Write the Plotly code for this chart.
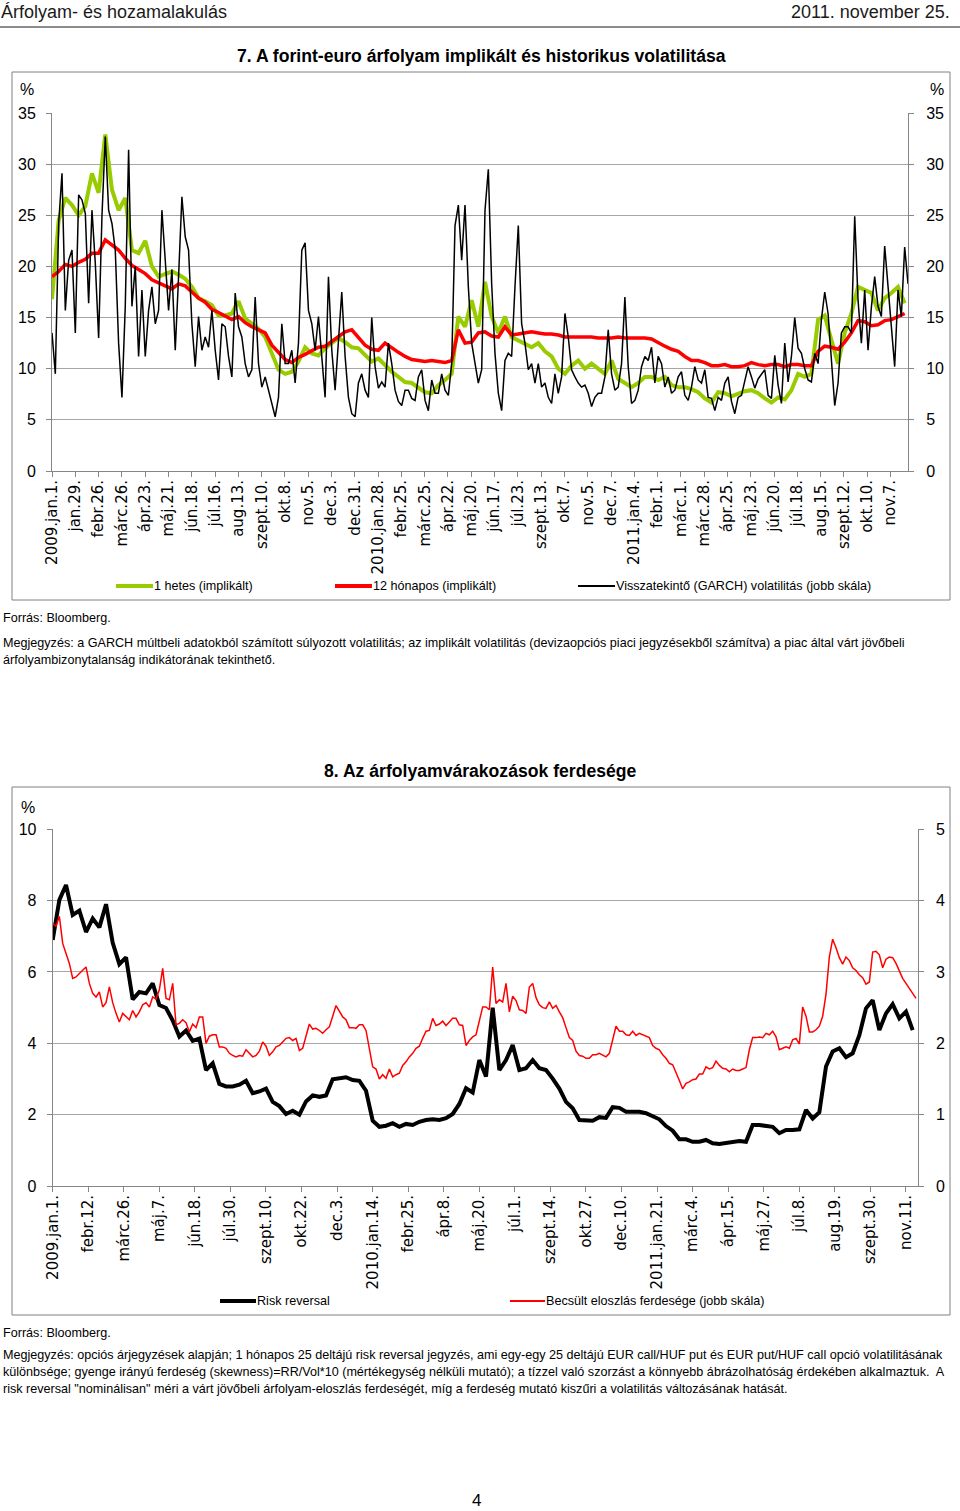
import numpy as np
import plotly.graph_objects as go

W, H = 960, 1511

# ---------------- Chart 7 data (volatility, %) ----------------
vol_tick_labels = ["2009.jan.1.", "jan.29.", "febr.26.", "márc.26.", "ápr.23.", "máj.21.", "jún.18.",
                   "júl.16.", "aug.13.", "szept.10.", "okt.8.", "nov.5.", "dec.3.", "dec.31.",
                   "2010.jan.28.", "febr.25.", "márc.25.", "ápr.22.", "máj.20.", "jún.17.", "júl.23.",
                   "szept.13.", "okt.7.", "nov.5.", "dec.7.", "2011.jan.4.", "febr.1.", "márc.1.",
                   "márc.28.", "ápr.25.", "máj.23.", "jún.20.", "júl.18.", "aug.15.", "szept.12.",
                   "okt.10.", "nov.7."]

green_1w = [16.8, 24.5, 26.7, 26.0, 25.0, 25.9, 29.1, 27.2, 32.9, 27.5,
            25.5, 26.7, 21.6, 21.3, 22.5, 20.0, 19.0, 19.2, 19.5, 19.2,
            18.8, 18.0, 16.9, 16.6, 16.2, 15.2, 15.2, 15.4, 16.6, 14.9,
            14.4, 13.9, 13.1, 11.5, 9.9, 9.5, 9.7, 10.7, 12.1, 11.5,
            11.3, 12.0, 12.5, 13.0,
            12.6, 12.1, 12.0, 11.3, 10.7, 11.0, 10.3, 9.7, 9.2, 8.7,
            8.6, 8.2, 7.7, 7.6, 8.4, 8.9, 9.5, 15.1, 14.1, 16.7,
            14.1, 18.5, 15.1, 13.5, 15.1, 13.1, 12.8, 12.5, 12.1, 12.5,
            11.7, 11.2, 10.0, 9.5, 10.3, 10.8, 10.0, 10.5, 10.0, 9.5,
            10.8, 9.0,
            8.6, 8.2, 8.6, 9.2, 9.2, 8.9, 9.2, 8.4, 8.2, 8.2,
            8.0, 7.7, 7.1, 6.7, 7.7, 7.6, 7.3, 7.6, 7.8, 7.9,
            7.6, 7.1, 6.7, 7.2, 7.0, 7.9, 9.5, 9.2, 9.5, 14.8,
            15.2, 12.8, 10.5, 13.5, 15.4, 18.0, 17.7, 17.4, 15.7, 16.9,
            17.4, 18.0, 16.4]

red_12m = [19.0, 19.5, 20.2, 20.0, 20.4, 20.7, 21.3, 21.3, 22.6, 22.1,
           21.6, 20.8, 20.1, 19.7, 19.3, 18.7, 18.4, 18.1, 17.8, 18.3,
           18.1, 17.5, 16.9, 16.5, 15.8, 15.5, 15.1, 14.8, 15.1, 14.5,
           14.1, 13.8, 13.5, 12.3, 11.6, 10.9, 10.6, 11.1, 11.4, 11.8,
           12.1, 12.2, 12.7, 13.1,
           13.6, 13.8, 13.0, 12.3, 11.9, 11.8, 12.5, 12.0, 11.6, 11.2,
           10.9, 10.8, 10.7, 10.8, 10.7, 10.6, 10.8, 13.8, 12.5, 12.6,
           13.5, 13.6, 13.2, 13.1, 14.1, 13.3, 13.4, 13.5, 13.6, 13.5,
           13.4, 13.4, 13.3, 13.1, 13.1, 13.1, 13.1, 13.1, 13.0, 13.0,
           13.0, 13.1,
           13.0, 13.0, 13.0, 13.0, 12.9, 12.5, 12.2, 11.9, 11.7, 11.2,
           10.8, 10.8, 10.6, 10.3, 10.3, 10.4, 10.2, 10.2, 10.3, 10.6,
           10.4, 10.3, 10.4, 10.4, 10.2, 10.4, 10.4, 10.3, 10.3, 11.7,
           12.2, 12.1, 11.9, 12.6, 13.5, 14.7, 14.6, 14.2, 14.3, 14.7,
           14.8, 15.1, 15.4]

garch = [13.5, 9.5, 24.2, 29.1, 15.7, 20.6, 21.6, 13.5, 27.0, 26.5,
         25.2, 16.4, 25.5, 20.3, 13.0, 24.9, 32.7, 25.5, 24.2, 21.6,
         12.5, 7.2, 16.1, 31.4, 16.1, 20.0, 11.2, 17.7, 11.2, 15.7,
         18.0, 14.4, 15.7, 25.5, 20.6, 15.7, 19.7, 11.8, 19.0, 26.8,
         22.9, 21.6, 14.4, 10.2, 15.1, 11.8, 13.1, 12.1, 15.7, 11.8,
         8.9, 14.4, 14.1, 11.2, 9.2, 17.4, 14.1, 13.1, 10.5, 9.2,
         9.9, 17.0, 10.5, 8.2, 9.2, 7.9, 6.3, 5.3, 7.2, 14.4,
         10.5, 10.5, 11.8, 8.6, 12.5, 21.6, 22.3, 15.7, 14.4, 11.8,
         15.1, 10.8, 7.2, 19.0, 11.8, 7.9, 12.5,
         17.5, 11.2, 7.2, 5.6, 5.3, 8.6, 9.5, 7.9, 7.2, 15.0,
         10.2, 8.1, 8.7, 8.2, 12.5, 10.5, 7.9, 6.8, 6.4, 7.9,
         7.9, 7.1, 6.9, 9.2, 9.9, 6.9, 5.9, 8.9, 7.6, 7.6,
         9.5, 7.9, 7.4, 10.5, 24.0, 26.0, 20.6, 26.0, 18.0, 12.5,
         10.5, 8.6, 9.9, 25.5, 29.5, 18.3, 11.5, 7.6, 5.9, 10.8,
         11.5, 11.2, 18.0, 24.0, 14.4, 12.5, 9.9, 10.5, 8.6, 10.5,
         8.2, 8.6, 7.2, 6.6, 9.5, 7.6, 9.2, 15.4, 13.1, 9.9,
         9.2, 8.6, 8.2, 8.4, 7.6, 6.3, 7.2, 7.6, 7.6, 9.2,
         13.8, 9.5, 7.9, 8.2,
         10.5, 17.0, 10.2, 6.6, 6.9, 7.9, 10.2, 11.2, 10.8, 12.1,
         8.6, 11.2, 10.5, 8.2, 9.2, 7.6, 7.9, 9.2, 9.7, 7.4,
         6.9, 8.2, 10.2, 8.9, 8.6, 9.9, 7.2, 7.1, 5.9, 7.2,
         6.9, 8.6, 9.2, 6.8, 5.6, 7.2, 7.4, 8.7, 10.2, 9.2,
         8.1, 9.0, 9.5, 9.9, 7.4, 7.1, 11.3, 8.4, 6.6, 12.5,
         8.7, 11.2, 15.0, 12.0, 11.5, 10.0, 8.9, 8.7, 11.5, 10.5,
         14.8, 17.5, 15.4, 11.2, 6.4, 8.6, 13.5, 14.1, 14.1, 13.5,
         24.9, 16.7, 12.5, 17.7, 11.8, 16.0, 19.0, 16.1, 15.1, 22.0,
         18.0, 14.1, 10.2, 17.7, 15.1, 21.9, 18.3]

# ---------------- Chart 8 data ----------------
skew_tick_labels = ["2009.jan.1.", "febr.12.", "márc.26.", "máj.7.", "jún.18.", "júl.30.", "szept.10.",
                    "okt.22.", "dec.3.", "2010.jan.14.", "febr.25.", "ápr.8.", "máj.20.", "júl.1.",
                    "szept.14.", "okt.27.", "dec.10.", "2011.jan.21.", "márc.4.", "ápr.15.", "máj.27.",
                    "júl.8.", "aug.19.", "szept.30.", "nov.11."]

risk_reversal = [6.90, 8.02, 8.44, 7.60, 7.72, 7.12, 7.50, 7.25, 7.90, 6.82,
                 6.22, 6.41, 5.23, 5.44, 5.40, 5.68, 5.07, 4.99, 4.64, 4.19,
                 4.36, 4.07, 4.13, 3.25, 3.44, 2.86, 2.79, 2.79, 2.84, 2.95,
                 2.60, 2.65, 2.73, 2.36, 2.24, 2.02, 2.11, 2.00, 2.37, 2.54,
                 2.50, 2.54, 2.99, 3.02, 3.05, 2.97, 2.95, 2.67, 1.83, 1.66,
                 1.69, 1.76, 1.66, 1.74, 1.71, 1.80, 1.85, 1.87, 1.85, 1.90,
                 2.02, 2.30,
                 2.74, 2.62, 3.53, 3.07, 5.00, 3.25, 3.53, 3.95, 3.25, 3.30,
                 3.53, 3.30, 3.25, 3.01, 2.73, 2.36, 2.18, 1.85, 1.85, 1.83,
                 1.93, 1.91, 2.21, 2.19, 2.08, 2.08, 2.08, 2.04, 1.94, 1.87,
                 1.68, 1.55, 1.31, 1.31, 1.24, 1.24, 1.29, 1.20, 1.18, 1.20,
                 1.22, 1.26, 1.24, 1.71, 1.71, 1.68, 1.66, 1.48, 1.57, 1.57,
                 1.59, 2.13, 1.89, 2.07, 3.35, 3.77, 3.86, 3.61, 3.72, 4.23,
                 4.98, 5.21, 4.37, 4.84, 5.10, 4.70, 4.89, 4.37]

skewness = [3.68, 3.64, 3.78, 3.40, 3.26, 3.12, 2.91, 2.93, 2.98, 3.03,
            3.07, 2.84, 2.70, 2.65, 2.72, 2.51, 2.57, 2.79, 2.57, 2.42,
            2.30, 2.42, 2.37, 2.33, 2.46, 2.37, 2.44, 2.54, 2.57, 2.51,
            2.65, 2.62, 2.75, 3.05, 2.63, 2.61, 2.84, 2.26, 2.28, 2.33,
            2.29, 2.16, 2.27, 2.22, 2.37, 2.37, 2.00, 2.10, 2.12, 2.12,
            1.95, 1.95, 1.93, 1.86, 1.83, 1.81, 1.83, 1.82, 1.91, 1.86,
            1.81, 1.83, 1.89, 2.02, 1.96, 1.83, 1.88, 1.95, 1.97, 2.02,
            2.07, 2.08, 2.04, 2.07, 1.90, 1.93, 2.09, 2.27, 2.20, 2.21,
            2.18, 2.14, 2.19, 2.23, 2.38, 2.53, 2.45, 2.37, 2.33, 2.22,
            2.22, 2.21, 2.26, 2.26, 2.18, 1.95, 1.67, 1.64, 1.50, 1.56,
            1.51, 1.64, 1.53, 1.56, 1.58, 1.69, 1.74, 1.81, 1.86, 1.93,
            1.96, 2.07, 2.17, 2.18, 2.35, 2.25, 2.27, 2.31, 2.25, 2.30,
            2.35, 2.35, 2.26,
            2.25, 1.97, 2.04, 2.09, 2.12, 2.34, 2.51, 2.51, 2.47, 3.07,
            2.56, 2.61, 2.58, 2.84, 2.44, 2.66, 2.60, 2.47, 2.46, 2.42,
            2.79, 2.84, 2.64, 2.54, 2.50, 2.49, 2.58, 2.49, 2.53, 2.44,
            2.36, 2.22, 2.08, 2.04, 1.89, 1.83, 1.82, 1.79, 1.79, 1.84,
            1.84, 1.86, 1.84, 1.81, 1.86, 2.07, 2.24, 2.17, 2.17, 2.12,
            2.11, 2.17, 2.11, 2.14, 2.12, 2.09, 2.08, 1.97, 1.93, 1.91,
            1.84, 1.79, 1.72, 1.70, 1.60, 1.48, 1.36, 1.44, 1.46, 1.49,
            1.50, 1.57, 1.57, 1.67, 1.64, 1.66, 1.75, 1.69, 1.65, 1.64,
            1.60, 1.64, 1.62, 1.62, 1.64, 1.66, 1.91, 2.08, 2.08, 2.09,
            2.08, 2.14, 2.12, 2.17, 2.09, 1.91, 1.93, 1.95, 1.93, 2.05,
            2.07, 1.99, 2.51, 2.38, 2.16, 2.16, 2.19, 2.24, 2.38, 2.69,
            3.21, 3.46, 3.34, 3.20, 3.11, 3.21, 3.16, 3.06, 3.02, 2.96,
            2.92, 2.83, 2.86, 3.28, 3.29, 3.24, 3.06, 3.18, 3.21, 3.20,
            3.12, 3.02, 2.91, 2.84, 2.77, 2.70, 2.63]

# ---------------- geometry helpers ----------------
def px(x):
    return x / W


def py(y):
    return 1 - y / H


TXT = "Liberation Sans, Arial, sans-serif"
TICKF = "DejaVu Sans"
GRID = "#a6a6a6"
AX = "#868686"
GREEN = "#99cc00"
RED = "#ff0000"
SMALL = 12.6

# observation index axes
N7 = 735.0
step_b7 = N7 / (len(garch) - 1)
x_garch = np.arange(len(garch)) * step_b7
x_green = np.arange(len(green_1w)) * step_b7 * 2
x_red = np.arange(len(red_12m)) * step_b7 * 2

N8 = 730.0
step_r8 = 2.813
x_skew = np.arange(len(skewness)) * step_r8
x_rr = np.arange(len(risk_reversal)) * step_r8 * 2

fig = go.Figure()
fig.add_trace(go.Scatter(x=x_green, y=green_1w, mode="lines", line=dict(color=GREEN, width=4),
                         name="1 hetes (implikált)", xaxis="x", yaxis="y", showlegend=False))
fig.add_trace(go.Scatter(x=x_red, y=red_12m, mode="lines", line=dict(color=RED, width=3.5),
                         name="12 hónapos (implikált)", xaxis="x", yaxis="y", showlegend=False))
fig.add_trace(go.Scatter(x=x_garch, y=garch, mode="lines", line=dict(color="black", width=1.5),
                         name="Visszatekintő (GARCH) volatilitás (jobb skála)", xaxis="x", yaxis="y2",
                         showlegend=False))
fig.add_trace(go.Scatter(x=x_skew, y=skewness, mode="lines", line=dict(color=RED, width=1.5),
                         name="Becsült eloszlás ferdesége (jobb skála)", xaxis="x3", yaxis="y4",
                         showlegend=False))
fig.add_trace(go.Scatter(x=x_rr, y=risk_reversal, mode="lines", line=dict(color="black", width=4),
                         name="Risk reversal", xaxis="x3", yaxis="y3", showlegend=False))

ytick_font = dict(family=TXT, size=16, color="black")
xtick_font = dict(family=TICKF, size=15, color="black")

dom7_x = [px(52), px(908)]
dom7_y = [py(471), py(113)]
dom8_x = [px(52.7), px(917.7)]
dom8_y = [py(1186), py(829.3)]

common_y = dict(showline=True, linecolor=AX, linewidth=1, ticks="outside", ticklen=5, tickcolor=AX,
                tickfont=ytick_font, zeroline=False, fixedrange=True, automargin=False)
common_x = dict(tickangle=-90, tickfont=xtick_font, ticks="outside", ticklen=5, tickcolor=AX,
                showline=True, linecolor=AX, showgrid=False, zeroline=False, automargin=False,
                ticklabelstandoff=-3)

fig.update_layout(
    width=W, height=H, margin=dict(l=0, r=0, t=0, b=0, pad=0), autosize=False,
    paper_bgcolor="white", plot_bgcolor="white", showlegend=False,
    xaxis=dict(domain=dom7_x, anchor="y", range=[0, N7],
               tickvals=[20 * i for i in range(len(vol_tick_labels))], ticktext=vol_tick_labels, **common_x),
    yaxis=dict(domain=dom7_y, anchor="x", range=[0, 35], tickvals=list(range(0, 36, 5)),
               showgrid=True, gridcolor=GRID, gridwidth=1, ticklabelstandoff=7, **common_y),
    yaxis2=dict(overlaying="y", side="right", anchor="x", range=[0, 35], tickvals=list(range(0, 36, 5)),
                showgrid=False, ticklabelstandoff=9, **common_y),
    xaxis3=dict(domain=dom8_x, anchor="y3", range=[0, N8],
                tickvals=[30 * i for i in range(len(skew_tick_labels))], ticktext=skew_tick_labels, **common_x),
    yaxis3=dict(domain=dom8_y, anchor="x3", range=[0, 10], tickvals=list(range(0, 11, 2)),
                showgrid=True, gridcolor=GRID, gridwidth=1, ticklabelstandoff=7, **common_y),
    yaxis4=dict(overlaying="y3", side="right", anchor="x3", range=[0, 5], tickvals=list(range(0, 6)),
                showgrid=False, ticklabelstandoff=9, **common_y),
)

shapes = []
# header rule
shapes.append(dict(type="line", xref="paper", yref="paper", x0=0, x1=1, y0=py(27), y1=py(27),
                   line=dict(color="#8c8c8c", width=2)))
# chart boxes
for (t, b) in [(72, 600), (787, 1315)]:
    shapes.append(dict(type="rect", xref="paper", yref="paper", x0=px(12), x1=px(950), y0=py(b), y1=py(t),
                       line=dict(color="#808080", width=1)))
# legend samples
for (x0, x1, yy, col, wd) in [(116, 153, 586, GREEN, 4), (335, 372, 586, RED, 4), (578, 615, 586, "black", 2),
                              (220, 256, 1301, "black", 4), (510, 545, 1301, RED, 2)]:
    shapes.append(dict(type="line", xref="paper", yref="paper", x0=px(x0), x1=px(x1), y0=py(yy), y1=py(yy),
                       line=dict(color=col, width=wd)))
fig.update_layout(shapes=shapes)

ann = []


def txt(x, y, s, size=SMALL, xanchor="left", bold=False, family=TXT, color="black"):
    ann.append(dict(xref="paper", yref="paper", x=px(x), y=py(y), text=("<b>%s</b>" % s) if bold else s,
                    showarrow=False, xanchor=xanchor, yanchor="middle", align="left", borderpad=0,
                    font=dict(family=family, size=size, color=color)))


txt(0, 12, "Árfolyam- és hozamalakulás", size=18, color="#1a1a1a")
txt(951, 12, "2011. november 25.", size=18, xanchor="right", color="#1a1a1a")
txt(481, 56, "7. A forint-euro árfolyam implikált és historikus volatilitása", size=17.6, xanchor="center",
    bold=True)
txt(27, 90, "%", size=16, xanchor="center")
txt(937, 90, "%", size=16, xanchor="center")
txt(153, 586, "1 hetes (implikált)")
txt(372, 586, "12 hónapos (implikált)")
txt(615, 586, "Visszatekintő (GARCH) volatilitás (jobb skála)")
txt(2, 618, "Forrás: Bloomberg.")
txt(2, 643, "Megjegyzés: a GARCH múltbeli adatokból számított súlyozott volatilitás; az implikált volatilitás "
            "(devizaopciós piaci jegyzésekből számítva) a piac által várt jövőbeli")
txt(2, 660, "árfolyambizonytalanság indikátorának tekinthető.")

txt(480, 771, "8. Az árfolyamvárakozások ferdesége", size=17.6, xanchor="center", bold=True)
txt(28, 807, "%", size=16, xanchor="center")
txt(256, 1301, "Risk reversal")
txt(545, 1301, "Becsült eloszlás ferdesége (jobb skála)")
txt(2, 1333, "Forrás: Bloomberg.")
txt(2, 1355, "Megjegyzés: opciós árjegyzések alapján; 1 hónapos 25 deltájú risk reversal jegyzés, ami egy-egy "
             "25 deltájú EUR call/HUF put és EUR put/HUF call opció volatilitásának")
txt(2, 1372, "különbsége; gyenge irányú ferdeség (skewness)=RR/Vol*10 (mértékegység nélküli mutató); a tízzel "
             "való szorzást a könnyebb ábrázolhatóság érdekében alkalmaztuk.&nbsp; A")
txt(2, 1389, "risk reversal \"nominálisan\" méri a várt jövőbeli árfolyam-eloszlás ferdeségét, míg a ferdeség "
             "mutató kiszűri a volatilitás változásának hatását.")
txt(476, 1500, "4", size=17, xanchor="center")
fig.update_layout(annotations=ann)

fig.write_html("out.html", config={"displayModeBar": False},
               post_script="document.body.style.margin='0px';document.body.style.padding='0px';")
